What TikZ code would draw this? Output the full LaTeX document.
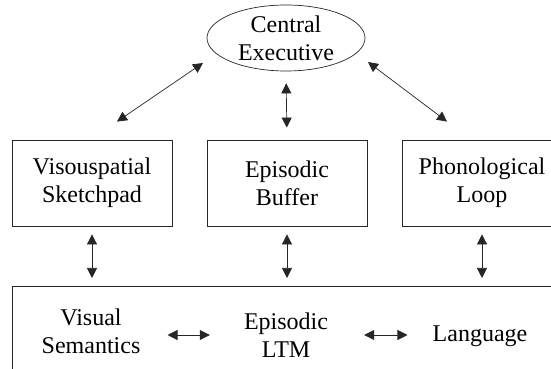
\documentclass[tikz,border=0pt]{standalone}
\usepackage{fontspec}
\setmainfont{Liberation Serif}
\usetikzlibrary{shapes.geometric,arrows.meta}
\tikzset{
	box/.style={draw=black!85,line width=0.8pt,minimum width=160pt,minimum height=86pt,align=center,inner sep=0pt},
	lbl/.style={align=center,inner sep=0pt},
	link/.style={{Triangle[length=10pt,width=10pt]}-{Triangle[length=10pt,width=10pt]},draw=black!85,line width=0.7pt}
}
\begin{document}
\begin{tikzpicture}[x=1pt,y=1pt,font=\fontsize{24}{28}\selectfont]
	\def\gap{8} % gap above and below the lower arrows
	
	\useasboundingbox (0,0) rectangle (551,369);
	\clip (0,0) rectangle (551,369);
	
	\node[ellipse,draw=black!85,line width=0.7pt,minimum width=158pt,minimum height=66pt,inner sep=0pt,align=center] (ce) at (286,331) {Central\\Executive};
	
	\node[box] (vsp) at (92,186) {Visouspatial\\Sketchpad};
	\node[box] (eb) at (287,186) {Episodic\\Buffer};
	\node[box] (pl) at (482,186) {Phonological\\Loop};
	
	% long-term memory, runs off the page
	\node[draw=black!85,line width=0.8pt,minimum width=600pt,minimum height=120pt,anchor=north west,inner sep=0pt] (ltm) at (12,83) {};
	\node[lbl] (vis) at (91,38) {Visual\\Semantics};
	\node[lbl] (epi) at (286,33.5) {Episodic\\LTM};
	\node[lbl] (lang) at (480,32.5) {Language};
	
	\draw[link] ([shift={(25,18)}]vsp.north) -- ([shift={(-83,-25)}]ce.center);
	\draw[link,shorten <=12pt,shorten >=12pt] (ce.south) -- (eb.north);
	\draw[link] ([shift={(-35,18)}]pl.north) -- ([shift={(82,-24)}]ce.center);
	
	\foreach \b in {vsp,eb,pl}
		\draw[link,shorten <=\gap pt,shorten >=\gap pt] (\b.south) -- (\b.south |- ltm.north);
	
	\draw[link,shorten <=27pt,shorten >=34pt] (vis.east |- 0,34) -- (epi.west |- 0,34);
	\draw[link,shorten <=36pt,shorten >=25pt] (epi.east |- 0,34) -- (lang.west |- 0,34);
\end{tikzpicture}
\end{document}
